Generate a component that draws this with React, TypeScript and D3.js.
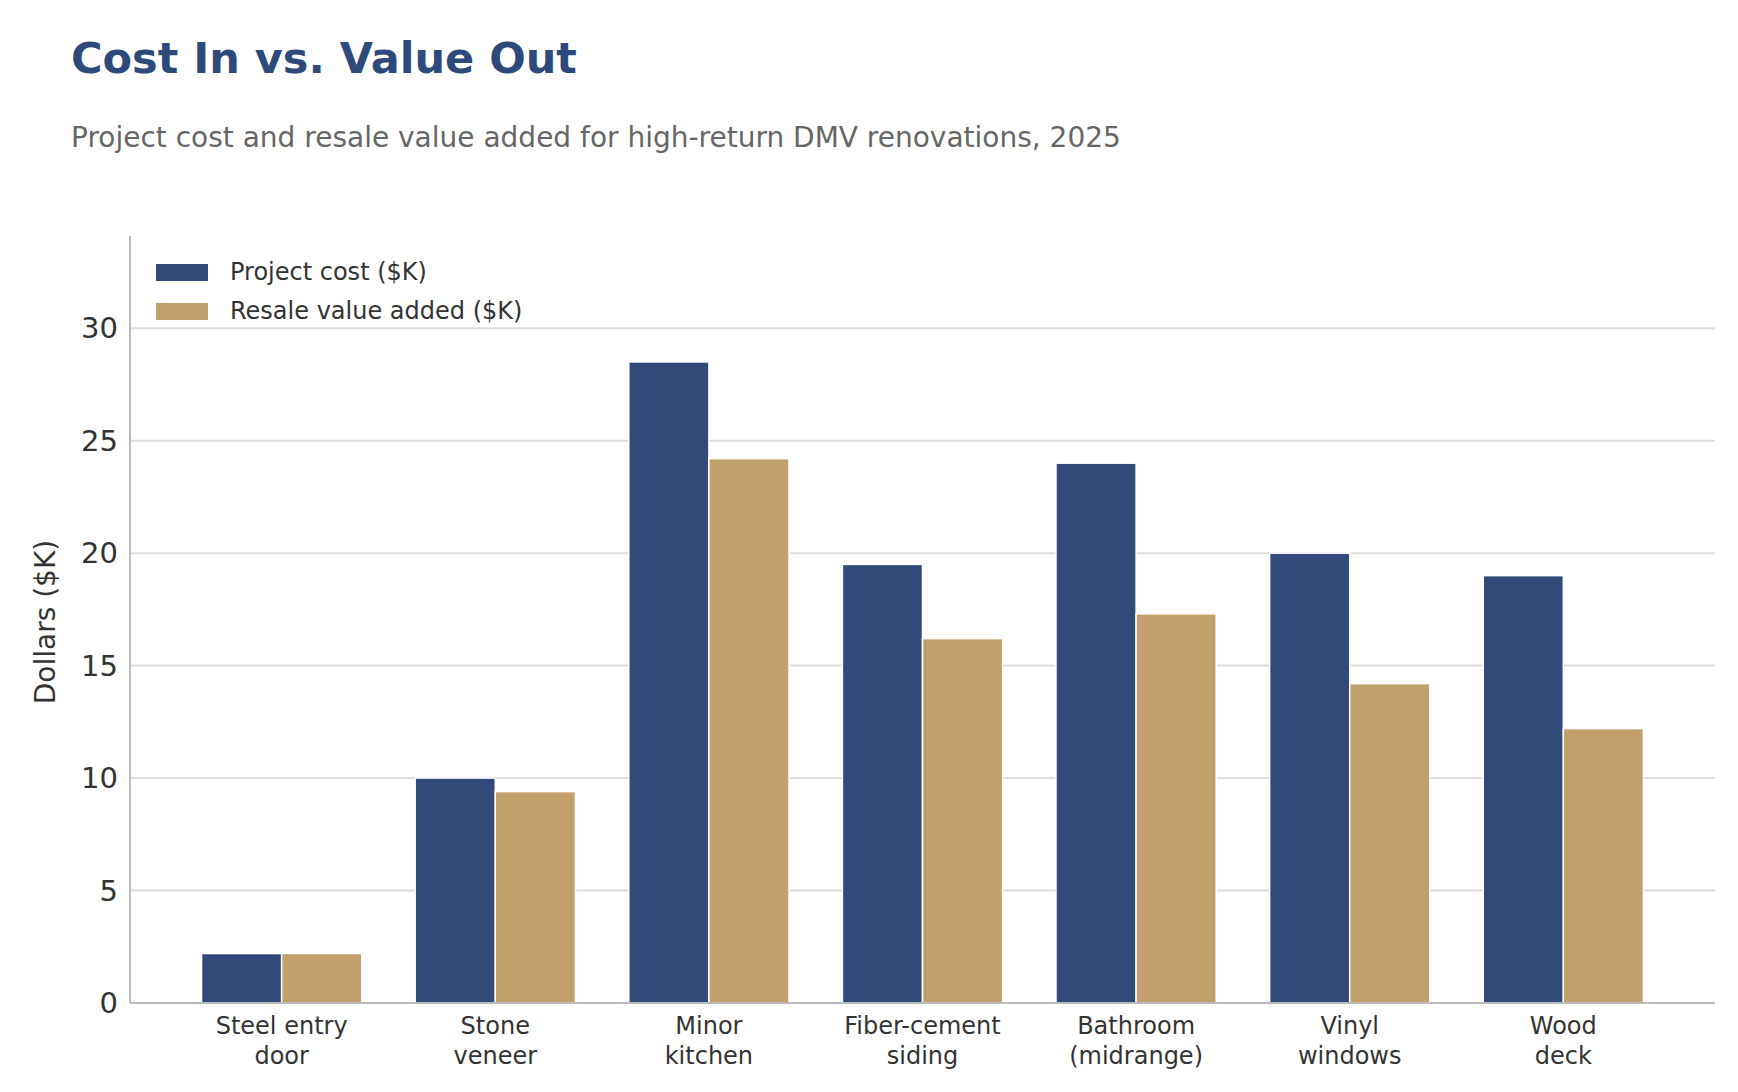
import React from "react";
import * as d3 from "d3";

const categories = ["Steel entry\ndoor", "Stone\nveneer", "Minor\nkitchen", "Fiber-cement\nsiding", "Bathroom\n(midrange)", "Vinyl\nwindows", "Wood\ndeck"];
const projectCost = [2.2, 10, 28.5, 19.5, 24, 20, 19];
const resaleValue = [2.2, 9.4, 24.2, 16.2, 17.3, 14.2, 12.2];
const yTicks = [0, 5, 10, 15, 20, 25, 30];
const seriesNames = ["Project cost ($K)", "Resale value added ($K)"];
const colors = ["#324a7a", "#c2a06b"];

export default function App() {
  const W = 1738, H = 1092;
  const L = 130, R = 1715, T = 236, B = 1003;
  const step = (R - L) / (7 + 0.71 * 2 - 1 + 1 - 0.0);
  const x = d3.scaleLinear().domain([-0.71 - 0.0, 6.71]).range([L, R]);
  const y = d3.scaleLinear().domain([0, 34.1]).range([B, T]);
  const bw = (x(1) - x(0)) * 0.375;
  const font = "DejaVu Sans, sans-serif";
  void step;
  return (
    <svg width={W} height={H} style={{ position: "absolute", left: 0, top: 0 }} fontFamily={font}>
      <rect width={W} height={H} fill="#fff" />
      <text x={71} y={73} fontSize={43} fontWeight="bold" fill="#2e4a7a">Cost In vs. Value Out</text>
      <text x={71} y={147} fontSize={28} fill="#666">Project cost and resale value added for high-return DMV renovations, 2025</text>
      {yTicks.map((t) => (
        <g key={t}>
          {t > 0 && <line x1={L} x2={R} y1={y(t)} y2={y(t)} stroke="#dcdcdc" strokeWidth={2} />}
          <text x={L - 12} y={y(t)} dy="0.35em" textAnchor="end" fontSize={29} fill="#333">{t}</text>
        </g>
      ))}
      {categories.map((c, i) => (
        <g key={c}>
          <rect x={x(i) - bw} y={y(projectCost[i])} width={bw} height={B - y(projectCost[i])} fill={colors[0]} stroke="#fff" strokeWidth={1.5} />
          <rect x={x(i)} y={y(resaleValue[i])} width={bw} height={B - y(resaleValue[i])} fill={colors[1]} stroke="#fff" strokeWidth={1.5} />
          {c.split("\n").map((ln, j) => (
            <text key={j} x={x(i)} y={1034 + j * 30} textAnchor="middle" fontSize={24} fill="#333">{ln}</text>
          ))}
        </g>
      ))}
      <line x1={L} x2={L} y1={T} y2={B} stroke="#bbb" strokeWidth={2} />
      <line x1={L} x2={R} y1={B} y2={B} stroke="#bbb" strokeWidth={2} />
      <text transform={`translate(55,622) rotate(-90)`} textAnchor="middle" fontSize={28} fill="#333">Dollars ($K)</text>
      {seriesNames.map((s, i) => (
        <g key={s}>
          <rect x={156} y={264 + i * 39} width={52} height={17} fill={colors[i]} />
          <text x={230} y={272 + i * 39} dy="0.35em" fontSize={24} fill="#333">{s}</text>
        </g>
      ))}
    </svg>
  );
}
